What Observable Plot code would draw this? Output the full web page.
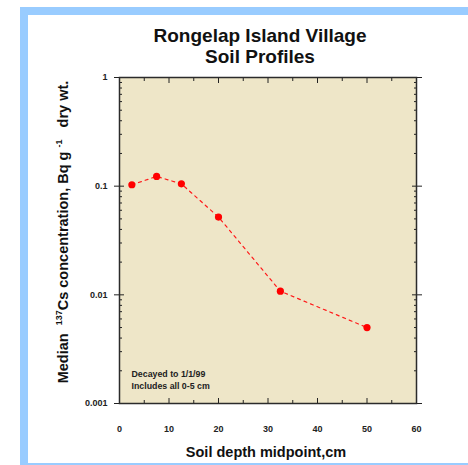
<!DOCTYPE html>
<html>
<head>
<meta charset="utf-8">
<script src="https://cdn.jsdelivr.net/npm/d3@7"></script>
<script src="https://cdn.jsdelivr.net/npm/@observablehq/plot@0.6"></script>
<style>
  html, body { margin: 0; padding: 0; background: #fff; }
  #wrap { position: relative; width: 468px; height: 465px; overflow: hidden; background: #fff; }
  #edge { position: absolute; left: 20px; top: 7px; width: 470px; height: 448px;
          border-left: 8px solid #99ccff; border-top: 8px solid #99ccff; border-bottom: 8px solid #99ccff; }
  #chart { position: absolute; left: 0; top: 0; }
  svg text { font-family: "Liberation Sans", Arial, sans-serif; }
</style>
</head>
<body>
<div id="wrap">
  <div id="edge"></div>
  <div id="chart"></div>
</div>
<script>
// Median 137Cs concentration by soil depth, Rongelap Island village
const depthMidpoints = [2.5, 7.5, 12.5, 20, 32.5, 50];
const cs137 = [0.103, 0.123, 0.105, 0.052, 0.0108, 0.005];

const yMajorTicks = [0.001, 0.01, 0.1, 1];
const yTickLabels = ["0.001", "0.01", "0.1", "1"];
const yMinorTicks = [0.001, 0.01, 0.1].flatMap(d => [2, 3, 4, 5, 6, 7, 8, 9].map(k => +(d * k).toPrecision(3)));
const xMajorTicks = [0, 10, 20, 30, 40, 50, 60];
const xMinorTicks = [5, 15, 25, 35, 45, 55];

const titleLines = ["Rongelap Island Village", "Soil Profiles"];
const xLabel = "Soil depth midpoint,cm";
const noteLines = ["Decayed to 1/1/99", "Includes all 0-5 cm"];

const rows = depthMidpoints.map((d, i) => ({depth: d, cs: cs137[i]}));

const font = "Liberation Sans, Arial, sans-serif";
const ink = "#222";
const blank = () => "";

const plot = Plot.plot({
  width: 468,
  height: 465,
  marginLeft: 119,
  marginRight: 52,
  marginTop: 77,
  marginBottom: 62,
  style: {fontFamily: font, background: "transparent", overflow: "visible"},
  x: {domain: [0, 60]},
  y: {type: "log", domain: [0.001, 1]},
  marks: [
    Plot.frame({fill: "#eee6c8", stroke: null}),
    // tick labels
    Plot.axisY(yMajorTicks, {anchor: "left", tickSize: 0, tickPadding: 12, label: null,
      tickFormat: d => yTickLabels[yMajorTicks.indexOf(d)], fontSize: 9, fontWeight: "bold", fill: ink}),
    Plot.axisX(xMajorTicks, {anchor: "bottom", tickSize: 0, tickPadding: 22.5, label: null,
      tickFormat: d => String(d), fontSize: 9, fontWeight: "bold", fill: ink}),
    // left and right ticks: major ticks cross the frame, minor ticks point inward
    Plot.axisY(yMajorTicks, {anchor: "left", tickSize: 10, dx: 5, tickFormat: blank, label: null, stroke: ink}),
    Plot.axisY(yMinorTicks, {anchor: "left", tickSize: 3, dx: 3, tickFormat: blank, label: null, stroke: ink}),
    Plot.axisY(yMajorTicks, {anchor: "right", tickSize: 10, dx: -5, tickFormat: blank, label: null, stroke: ink}),
    Plot.axisY(yMinorTicks, {anchor: "right", tickSize: 3, dx: -3, tickFormat: blank, label: null, stroke: ink}),
    // top and bottom ticks point inward
    Plot.axisX(xMajorTicks, {anchor: "bottom", tickSize: 5, dy: -5, tickFormat: blank, label: null, stroke: ink}),
    Plot.axisX(xMinorTicks, {anchor: "bottom", tickSize: 3, dy: -3, tickFormat: blank, label: null, stroke: ink}),
    Plot.axisX(xMajorTicks, {anchor: "top", tickSize: 5, dy: 5, tickFormat: blank, label: null, stroke: ink}),
    Plot.axisX(xMinorTicks, {anchor: "top", tickSize: 3, dy: 3, tickFormat: blank, label: null, stroke: ink}),
    Plot.frame({stroke: "#2b2b2b", strokeWidth: 1.5}),
    Plot.line(rows, {x: "depth", y: "cs", stroke: "#ff1a1a", strokeWidth: 1.2, strokeDasharray: "3,4"}),
    Plot.dot(rows, {x: "depth", y: "cs", r: 3.6, fill: "#ff0000", stroke: null}),
    Plot.text([noteLines.join("\n")], {frameAnchor: "bottom-left", dx: 12, dy: -15, lineAnchor: "bottom",
      textAnchor: "start", lineHeight: 1.3, fontSize: 8.8, fontWeight: "bold", fill: ink})
  ]
});

document.getElementById("chart").appendChild(plot);

const svg = d3.select(plot);

// two-line title
const title = svg.append("g")
  .attr("font-family", font).attr("font-weight", "bold").attr("font-size", 19)
  .attr("text-anchor", "middle").attr("fill", "#111");
titleLines.forEach((t, i) => title.append("text").attr("x", 260).attr("y", 41.8 + i * 21.5).text(t));

// x axis label
svg.append("text")
  .attr("x", 266).attr("y", 456.5)
  .attr("text-anchor", "middle").attr("font-family", font)
  .attr("font-weight", "bold").attr("font-size", 14.5).attr("fill", "#111")
  .text(xLabel);

// y axis label with superscripts
const yl = svg.append("text")
  .attr("transform", "translate(68.3,232) rotate(-90)")
  .attr("text-anchor", "middle").attr("font-family", font)
  .attr("font-weight", "bold").attr("font-size", 14.5).attr("fill", "#111")
  .attr("xml:space", "preserve");
yl.append("tspan").text("Median  ");
yl.append("tspan").attr("font-size", 9).attr("dy", -6).text("137");
yl.append("tspan").attr("dy", 6).text("Cs concentration, Bq g ");
yl.append("tspan").attr("font-size", 9).attr("dy", -6).text("-1");
yl.append("tspan").attr("dy", 6).text("   dry wt.");
</script>
</body>
</html>
